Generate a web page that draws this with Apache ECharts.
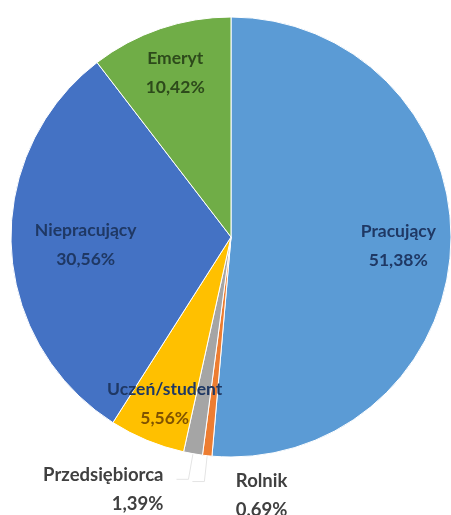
<!DOCTYPE html>
<html>
<head>
<meta charset="utf-8">
<script src="https://cdn.jsdelivr.net/npm/echarts@6/dist/echarts.min.js"></script>
<style>
  html, body { margin: 0; padding: 0; background: #fff; }
  #chart { width: 451px; height: 515px; }
</style>
</head>
<body>
<div id="chart"></div>
<script>
  // wartości (%)
  var categories = ["Pracujący", "Rolnik", "Przedsiębiorca", "Uczeń/student", "Niepracujący", "Emeryt"];
  var shares = [51.38, 0.69, 1.39, 5.56, 30.56, 10.42];

  var sliceColors = ["#5b9bd5", "#ed7d31", "#a5a5a5", "#ffc000", "#4472c4", "#70ad47"];
  var nameColors = ["#1f3864", "#404040", "#404040", "#1f3864", "#1f3864", "#2d4a1b"];
  var valueColors = ["#1f3864", "#404040", "#404040", "#7f5200", "#1f3864", "#2d4a1b"];
  var outside = { "Rolnik": true, "Przedsiębiorca": true };
  // przesunięcia etykiet
  var shift = {
    "Pracujący": [-6, 1],
    "Niepracujący": [28, 0],
    "Uczeń/student": [0, 7],
    "Rolnik": [100, 14],
    "Przedsiębiorca": [-8, 10]
  };

  var chart = echarts.init(document.getElementById("chart"));

  var center = [231, 237];
  var R = 220;

  function fmt(p) {
    var v = p.value.toFixed(2).replace(".", ",");
    return "{n" + p.dataIndex + "|" + p.name + "}\n{v" + p.dataIndex + "|" + v + "%}";
  }

  var rich = {};
  categories.forEach(function (c, i) {
    var size = outside[c] ? 18.5 : 17.5;
    var base = { fontFamily: "Lato", fontWeight: "bold", fontSize: size, lineHeight: 29 };
    rich["n" + i] = Object.assign({ color: nameColors[i] }, base);
    rich["v" + i] = Object.assign({ color: valueColors[i] }, base);
  });

  chart.setOption({
    animation: false,
    series: [
      {
        type: "pie",
        center: center,
        radius: [0, R],
        startAngle: 90,
        label: { show: false },
        labelLine: { show: false },
        itemStyle: { borderColor: "#ffffff", borderWidth: 1 },
        data: categories.map(function (c, i) {
          return { name: c, value: shares[i], itemStyle: { color: sliceColors[i] } };
        })
      },
      {
        type: "pie",
        center: center,
        radius: [R * 0.55, R],
        startAngle: 90,
        silent: true,
        avoidLabelOverlap: false,
        itemStyle: { color: "rgba(0,0,0,0)" },
        label: { show: true, position: "inside", formatter: fmt, rich: rich, overflow: "none" },
        labelLayout: function (p) {
          var s = shift[categories[p.dataIndex]];
          if (!s) return {};
          return { dx: s[0], dy: s[1] };
        },
        data: categories.map(function (c, i) {
          var item = { name: c, value: shares[i] };
          if (outside[c]) {
            item.label = { position: "outside", align: "center", overflow: "none" };
            item.labelLine = {
              show: true, length: 26, length2: 12,
              lineStyle: { color: "#e4e4e4", width: 1 }
            };
          }
          return item;
        })
      }
    ]
  });
</script>
</body>
</html>
